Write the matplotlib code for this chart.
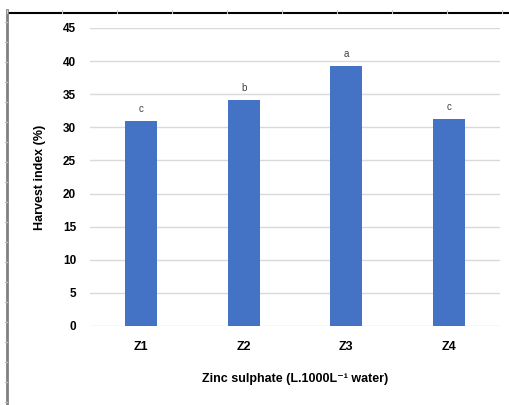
import matplotlib
matplotlib.use("Agg")
import matplotlib.pyplot as plt
from matplotlib.lines import Line2D

plt.rcParams['font.family'] = ['Liberation Sans', 'DejaVu Sans']

# zinc sulphate treatments and harvest index
treatments = ['Z1', 'Z2', 'Z3', 'Z4']
harvest_index = [31.0, 34.1, 39.3, 31.3]
letters = ['c', 'b', 'a', 'c']
y_ticks = [0, 5, 10, 15, 20, 25, 30, 35, 40, 45]

W, H = 510, 405
fig = plt.figure(figsize=(W / 100, H / 100), dpi=100)
ax = fig.add_axes([90 / W, 79 / H, 410 / W, 298 / H])

x = range(len(treatments))
ax.bar(x, harvest_index, width=0.31, color='#4472c4', zorder=3)

for i, (v, l) in enumerate(zip(harvest_index, letters)):
    ax.annotate(l, (i, v), xytext=(0, 5), textcoords='offset points',
                ha='center', va='bottom', fontsize=7, color='#404040')

ax.set_ylim(0, 45)
ax.set_xlim(-0.5, 3.5)
ax.set_yticks(y_ticks)
ax.set_xticks(list(x))
ax.set_xticklabels(treatments, fontsize=9, fontweight='bold')
ax.tick_params(axis='y', length=0, pad=10, labelsize=8.5)
ax.tick_params(axis='x', length=0, pad=11)
for t in ax.get_yticklabels():
    t.set_fontweight('bold')

ax.grid(axis='y', color='#d9d9d9', linewidth=1, zorder=0)
for s in ax.spines.values():
    s.set_visible(False)

ax.set_ylabel('Harvest index (%)', fontsize=9, fontweight='bold', labelpad=12)
ax.set_xlabel('Zinc sulphate (L.1000L\u207b\u00b9 water)', fontsize=9,
              fontweight='bold', labelpad=14)

# outer frame lines with small ruler ticks
fig.add_artist(Line2D([8 / W, 1], [1 - 13 / H, 1 - 13 / H], color='black', lw=1.5))
fig.add_artist(Line2D([7.5 / W, 7.5 / W], [0, 1 - 10 / H], color='#808080', lw=2))
for px in range(7, W, 55):
    fig.add_artist(Line2D([px / W, px / W], [1 - 10 / H, 1 - 13 / H], color='#cccccc', lw=0.8))
for py in range(22, H, 20):
    fig.add_artist(Line2D([5 / W, 7 / W], [1 - py / H, 1 - py / H], color='#bbbbbb', lw=0.8))

fig.savefig('out.png', dpi=100)
